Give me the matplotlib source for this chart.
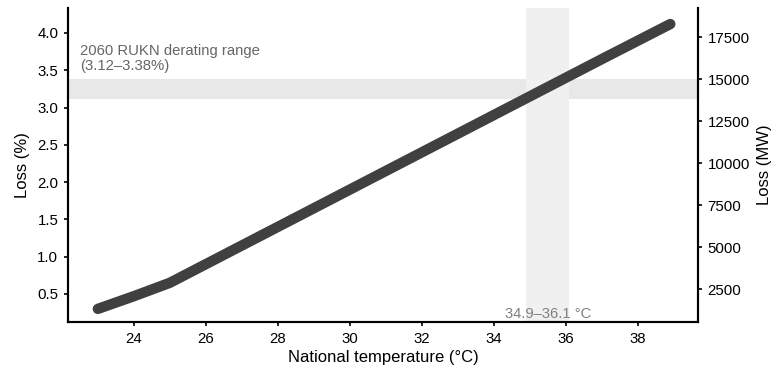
import matplotlib
matplotlib.use("Agg")
import matplotlib.pyplot as plt

plt.rcParams['font.family'] = ['Liberation Sans', 'DejaVu Sans']

# Data
temperature = [23.0, 24.0, 25.0, 27.0, 29.0, 31.0, 33.0, 35.0, 37.0, 38.9]
loss_pct = [0.30, 0.47, 0.65, 1.15, 1.65, 2.15, 2.65, 3.15, 3.65, 4.12]
mw_per_pct = 4440.0
band_pct = (3.12, 3.38)
band_temp = (34.9, 36.1)
band_label = "2060 RUKN derating range\n(3.12\u20133.38%)"
temp_label = "34.9\u201336.1 \u00b0C"

fig = plt.figure(figsize=(7.76, 3.76), dpi=100)
ax = fig.add_axes([0.0876, 0.1436, 0.8119, 0.8351])

ax.axhspan(band_pct[0], band_pct[1], color='#e8e8e8', lw=0, zorder=0)
ax.axvspan(band_temp[0], band_temp[1], color='#f0f0f0', lw=0, zorder=0)
ax.plot(temperature, loss_pct, color='#404040', lw=7.5, solid_capstyle='round',
        solid_joinstyle='round', zorder=3)

ax.set_xlim(22.17, 39.67)
ax.set_ylim(0.124, 4.335)
ax.set_xticks([24, 26, 28, 30, 32, 34, 36, 38])
ax.set_yticks([0.5, 1.0, 1.5, 2.0, 2.5, 3.0, 3.5, 4.0])
ax.set_xlabel("National temperature (\u00b0C)", fontsize=12, labelpad=3)
ax.set_ylabel("Loss (%)", fontsize=12, labelpad=5)
ax.tick_params(labelsize=10.8, width=1.2, length=3, pad=4)
ax.spines['top'].set_visible(False)
for s in ['left', 'bottom', 'right']:
    ax.spines[s].set_linewidth(1.5)

ax.text(22.5, 3.46, band_label, fontsize=10.7, color='#666666', va='bottom', ha='left',
        linespacing=1.1)
ax.text(sum(band_temp) / 2, 0.003, temp_label, fontsize=10.6, color='#808080',
        ha='center', va='bottom', transform=ax.get_xaxis_transform())

ax2 = ax.twinx()
ax2.set_ylim(0.124 * mw_per_pct, 4.335 * mw_per_pct)
ax2.set_yticks([2500, 5000, 7500, 10000, 12500, 15000, 17500])
ax2.set_ylabel("Loss (MW)", fontsize=12, labelpad=5)
ax2.tick_params(labelsize=10.8, width=1.2, length=3, pad=4)
ax2.spines['top'].set_visible(False)
for s in ['left', 'bottom', 'right']:
    ax2.spines[s].set_linewidth(1.5)

fig.savefig("out.png", dpi=100)
